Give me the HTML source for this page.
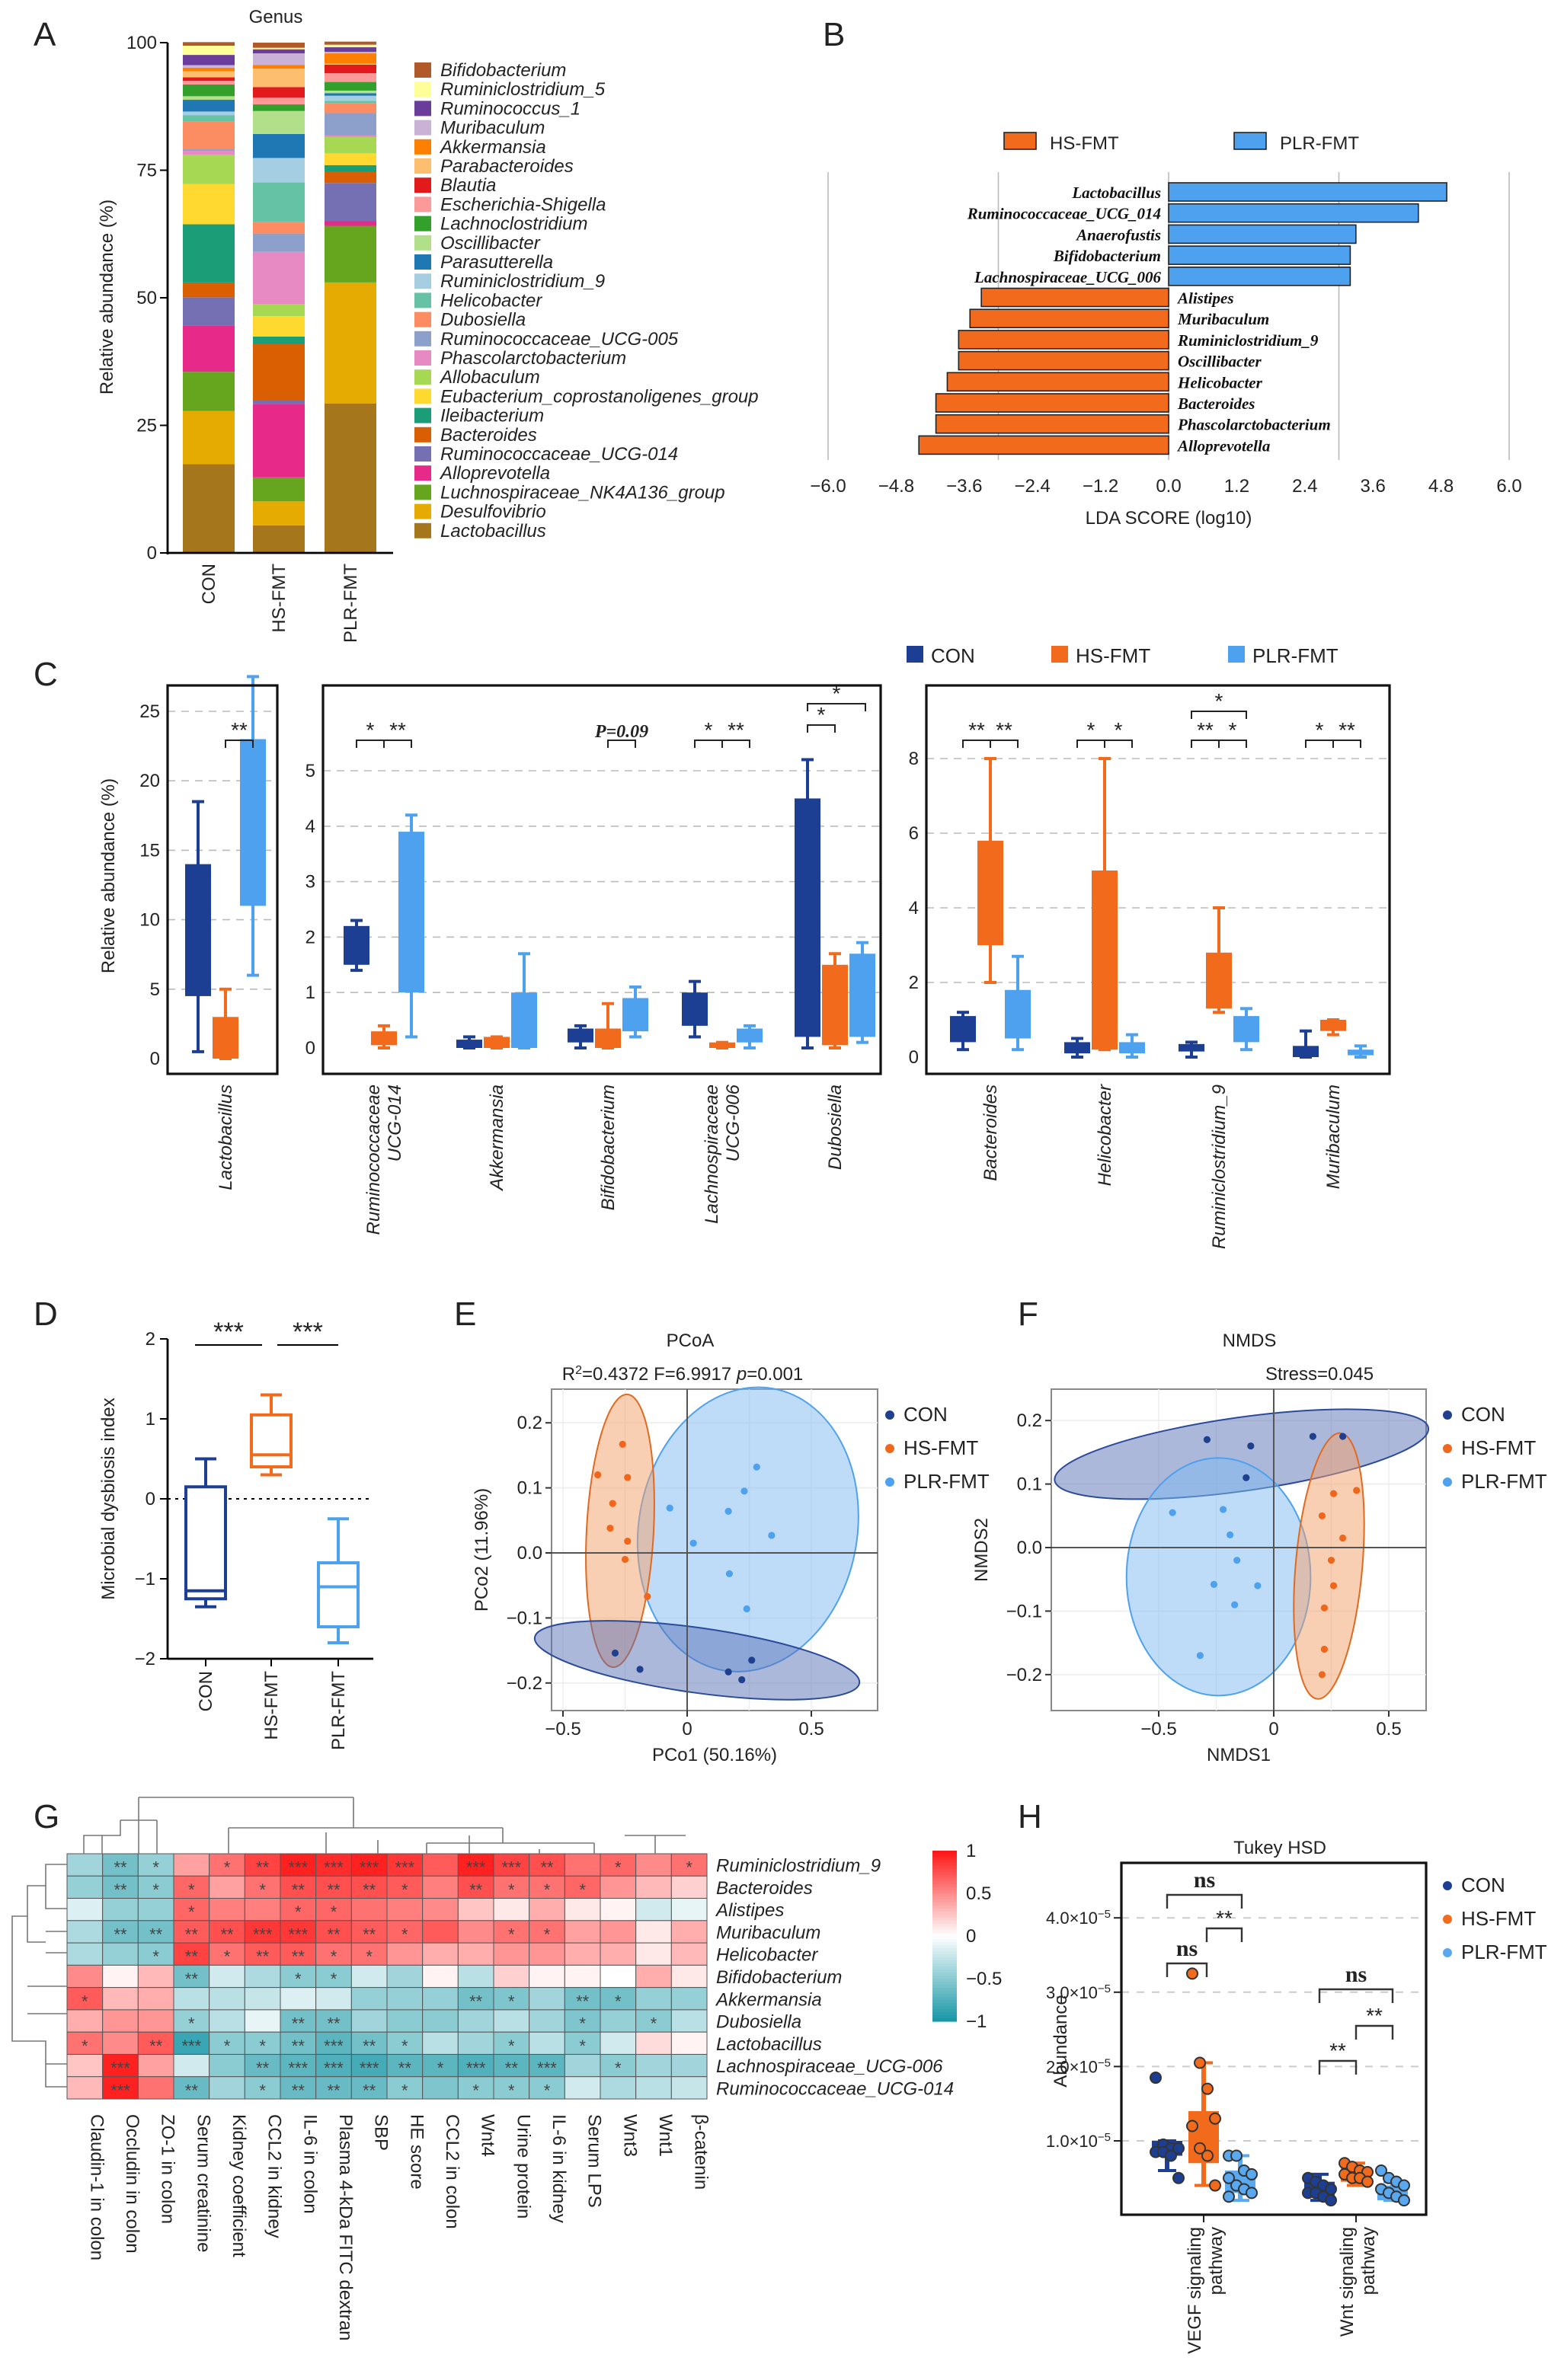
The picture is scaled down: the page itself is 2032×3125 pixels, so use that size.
<!DOCTYPE html>
<html><head><meta charset="utf-8">
<style>
html,body{margin:0;padding:0;background:#fff;}
svg{display:block;font-family:"Liberation Sans",sans-serif;}
.it{font-style:italic}
.bi{font-family:"Liberation Serif",serif;font-weight:bold;font-style:italic}
</style></head>
<body>
<svg id="fig" xmlns="http://www.w3.org/2000/svg" width="2032" height="3125" viewBox="0 0 1016 1562.5">
<rect x="0" y="0" width="1016" height="1562.5" fill="#fff"/>
</svg>
<script>
// ---------- DATA ----------
const generaA = ["Lactobacillus","Desulfovibrio","Luchnospiraceae_NK4A136_group","Alloprevotella","Ruminococcaceae_UCG-014","Bacteroides","Ileibacterium","Eubacterium_coprostanoligenes_group","Allobaculum","Phascolarctobacterium","Ruminococcaceae_UCG-005","Dubosiella","Helicobacter","Ruminiclostridium_9","Parasutterella","Oscillibacter","Lachnoclostridium","Escherichia-Shigella","Blautia","Parabacteroides","Akkermansia","Muribaculum","Ruminococcus_1","Ruminiclostridium_5","Bifidobacterium"];
const colorsA = ["#a6761d","#e6ab02","#66a61e","#e7298a","#7570b3","#d95f02","#1b9e77","#ffd92f","#a6d854","#e78ac3","#8da0cb","#fc8d62","#66c2a5","#a6cee3","#1f78b4","#b2df8a","#33a02c","#fb9a99","#e31a1c","#fdbf6f","#ff7f00","#cab2d6","#6a3d9a","#ffff99","#b15928"];
const groupsA = ["CON","HS-FMT","PLR-FMT"];
const conA = [17.4,10.4,7.7,9.1,5.5,2.9,11.4,7.9,5.7,0.8,0.3,5.4,1.3,0.7,2.3,0.7,2.3,0.7,0.7,1.2,0.7,0.5,2.0,1.8,0.7];
const hsA  = [5.4,4.7,4.7,14.4,0.8,10.9,1.5,4.0,2.4,10.2,3.6,2.3,7.7,4.8,4.7,4.5,1.3,1.3,2.1,3.6,0.7,2.3,0.8,0.3,1.0];
const plrA = [29.3,23.7,11.1,0.9,7.5,2.2,1.3,2.3,3.2,0.3,4.4,1.9,0.5,1.0,0.5,0.5,1.7,1.7,1.7,0.2,2.0,0.3,0.9,0.5,0.6];

const ldaTaxa = ["Lactobacillus","Ruminococcaceae_UCG_014","Anaerofustis","Bifidobacterium","Lachnospiraceae_UCG_006","Alistipes","Muribaculum","Ruminiclostridium_9","Oscillibacter","Helicobacter","Bacteroides","Phascolarctobacterium","Alloprevotella"];
const ldaScores = [4.9,4.4,3.3,3.2,3.2,-3.3,-3.5,-3.7,-3.7,-3.9,-4.1,-4.1,-4.4];
const ldaTicks = [-6.0,-4.8,-3.6,-2.4,-1.2,0.0,1.2,2.4,3.6,4.8,6.0];

const c1Taxa = ["Lactobacillus"];
const c1Con = [[0.5,4.5,14,18.5]];
const c1Hs  = [[0,0,3,5]];
const c1Plr = [[6,11,23,27.5]];
const c2Taxa = ["Ruminococcaceae UCG-014","Akkermansia","Bifidobacterium","Lachnospiraceae UCG-006","Dubosiella"];
const c2Con = [[1.4,1.5,2.2,2.3],[0,0,0.15,0.2],[0,0.1,0.35,0.4],[0.2,0.4,1.0,1.2],[0,0.2,4.5,5.2]];
const c2Hs  = [[0,0.05,0.3,0.4],[0,0,0.2,0.2],[0,0,0.35,0.8],[0,0,0.1,0.1],[0,0.05,1.5,1.7]];
const c2Plr = [[0.2,1.0,3.9,4.2],[0,0,1.0,1.7],[0.2,0.3,0.9,1.1],[0,0.1,0.35,0.4],[0.1,0.2,1.7,1.9]];
const c3Taxa = ["Bacteroides","Helicobacter","Ruminiclostridium_9","Muribaculum"];
const c3Con = [[0.2,0.4,1.1,1.2],[0,0.1,0.4,0.5],[0,0.15,0.35,0.4],[0,0,0.3,0.7]];
const c3Hs  = [[2,3,5.8,8],[0.2,0.2,5,8],[1.2,1.3,2.8,4],[0.6,0.7,1.0,1.0]];
const c3Plr = [[0.2,0.5,1.8,2.7],[0,0.1,0.4,0.6],[0.2,0.4,1.1,1.3],[0,0.05,0.2,0.3]];

const dGroups = ["CON","HS-FMT","PLR-FMT"];
const dStats = [[-1.35,-1.25,-1.15,0.15,0.5],[0.3,0.4,0.55,1.05,1.3],[-1.8,-1.6,-1.1,-0.8,-0.25]];

const eConX=[-0.29,-0.19,0.166,0.22,0.26], eConY=[-0.154,-0.179,-0.183,-0.195,-0.165];
const eHsX=[-0.26,-0.36,-0.24,-0.30,-0.31,-0.24,-0.25,-0.16], eHsY=[0.167,0.12,0.116,0.076,0.038,0.018,-0.01,-0.067];
const ePlrX=[0.28,0.23,-0.07,0.166,0.34,0.025,0.17,0.24], ePlrY=[0.132,0.095,0.069,0.064,0.027,0.015,-0.032,-0.086];
const eEllCon=[0.04,-0.165,0.66,0.05,8], eEllHs=[-0.27,0.034,0.135,0.21,3], eEllPlr=[0.245,0.036,0.44,0.22,10];
const fConX=[-0.29,0.17,0.3,-0.12,-0.1], fConY=[0.17,0.175,0.175,0.11,0.16];
const fHsX=[0.26,0.36,0.21,0.3,0.25,0.26,0.22,0.22,0.21], fHsY=[0.085,0.09,0.05,0.015,-0.02,-0.06,-0.095,-0.16,-0.2];
const fPlrX=[-0.44,-0.22,-0.19,-0.16,-0.26,-0.07,-0.17,-0.32], fPlrY=[0.055,0.06,0.02,-0.02,-0.058,-0.06,-0.09,-0.17];
const fEllCon=[-0.14,0.147,0.82,0.058,-8], fEllHs=[0.24,-0.029,0.145,0.21,5], fEllPlr=[-0.24,-0.046,0.4,0.187,0];

const gRows=["Ruminiclostridium_9","Bacteroides","Alistipes","Muribaculum","Helicobacter","Bifidobacterium","Akkermansia","Dubosiella","Lactobacillus","Lachnospiraceae_UCG-006","Ruminococcaceae_UCG-014"];
const gCols=["Claudin-1 in colon","Occludin in colon","ZO-1 in colon","Serum creatinine","Kidney coefficient","CCL2 in kidney","IL-6 in colon","Plasma 4-kDa FITC dextran","SBP","HE score","CCL2 in colon","Wnt4","Urine protein","IL-6 in kidney","Serum LPS","Wnt3","Wnt1","β-catenin"];
const gVals=[
[-0.4,-0.6,-0.45,0.4,0.6,0.8,0.95,0.9,0.95,0.85,0.7,0.95,0.8,0.75,0.6,0.65,0.5,0.6],
[-0.45,-0.6,-0.5,0.65,0.4,0.6,0.75,0.75,0.75,0.7,0.55,0.75,0.6,0.6,0.65,0.45,0.3,0.2],
[-0.15,-0.45,-0.45,0.65,0.55,0.55,0.65,0.65,0.6,0.55,0.5,0.25,0.1,0.35,0.1,0.05,-0.2,-0.1],
[-0.35,-0.6,-0.6,0.7,0.75,0.85,0.85,0.75,0.7,0.65,0.7,0.5,0.6,0.6,0.4,0.45,0.1,0.35],
[-0.35,-0.45,-0.5,0.8,0.6,0.7,0.7,0.6,0.6,0.45,0.35,0.35,0.45,0.45,0.35,0.35,0.1,0.3],
[0.5,0.05,0.3,-0.6,-0.2,-0.35,-0.5,-0.5,-0.2,-0.4,0.05,-0.3,0.2,0.05,0.05,0.0,0.35,0.1],
[0.7,0.3,0.35,-0.3,-0.3,-0.25,-0.15,-0.2,-0.45,-0.45,-0.45,-0.6,-0.55,-0.4,-0.6,-0.6,-0.45,-0.45],
[0.35,0.45,0.45,-0.45,-0.3,-0.1,-0.6,-0.6,-0.4,-0.5,-0.5,-0.4,-0.3,-0.4,-0.55,-0.45,-0.5,-0.3],
[0.6,0.5,0.7,-0.85,-0.5,-0.5,-0.6,-0.7,-0.6,-0.5,-0.3,-0.4,-0.5,-0.3,-0.5,-0.2,0.15,0.05],
[0.25,0.95,0.4,-0.2,-0.5,-0.65,-0.7,-0.75,-0.8,-0.7,-0.7,-0.75,-0.7,-0.7,-0.4,-0.5,-0.4,-0.4],
[0.3,0.95,0.6,-0.65,-0.4,-0.5,-0.65,-0.65,-0.65,-0.5,-0.55,-0.5,-0.5,-0.5,-0.2,-0.35,-0.3,-0.25]];
const gStars=[
["","**","*","","*","**","***","***","***","***","","***","***","**","","*","","*"],
["","**","*","*","","*","**","**","**","*","","**","*","*","*","","",""],
["","","","*","","","*","*","","","","","","","","","",""],
["","**","**","**","**","***","***","**","**","*","","","*","*","","","",""],
["","","*","**","*","**","**","*","*","","","","","","","","",""],
["","","","**","","","*","*","","","","","","","","","",""],
["*","","","","","","","","","","","**","*","","**","*","",""],
["","","","*","","","**","**","","","","","","","*","","*",""],
["*","","**","***","*","*","**","***","**","*","","","*","","*","","",""],
["","***","","","","**","***","***","***","**","*","***","**","***","","*","",""],
["","***","","**","","*","**","**","**","*","","*","*","*","","","",""]];
const gBarTicks=[1,0.5,0,-0.5,-1];

const hPathways=["VEGF signaling pathway","Wnt signaling pathway"];
const hTicks=[1.0,2.0,3.0,4.0];
const hConBox=[[0.6,0.8,1.0,1.0],[0.2,0.25,0.45,0.55]];
const hHsBox=[[0.4,0.7,1.4,2.05],[0.4,0.45,0.65,0.7]];
const hPlrBox=[[0.2,0.3,0.6,0.8],[0.2,0.2,0.4,0.45]];
const hConPts=[[1.85,0.95,0.9,0.9,0.85,0.85,0.8,0.5],[0.5,0.45,0.4,0.35,0.3,0.3,0.25,0.2]];
const hHsPts=[[3.25,2.05,1.7,1.3,1.2,0.9,0.8,0.4],[0.7,0.65,0.6,0.58,0.55,0.5,0.5,0.45]];
const hPlrPts=[[0.8,0.8,0.6,0.55,0.5,0.4,0.35,0.3,0.25],[0.6,0.5,0.45,0.4,0.35,0.3,0.25,0.2]];

// ---------- HELPERS ----------
const NS='http://www.w3.org/2000/svg';
const svg=document.getElementById('fig');
function mk(tag,attrs,parent){const e=document.createElementNS(NS,tag);for(const k in attrs)e.setAttribute(k,attrs[k]);(parent||svg).appendChild(e);return e;}
function tx(x,y,s,attrs,parent){const e=mk('text',Object.assign({x:x,y:y,'font-size':12,fill:'#222'},attrs||{}),parent);e.textContent=s;return e;}
function grp(name){const g=mk('g',{});return g;}
function fmtTick(v){return (v<0?'\u2212':'')+Math.abs(v).toFixed(1);}
const CC={con:'#1c3f94',hs:'#f26a1c',plr:'#4ea1ef'};

[['A',22,30],['B',540,30],['C',22,450],['D',22,870],['E',298,870],['F',668,870],['G',22,1200],['H',668,1200]].forEach(p=>{
  const t=tx(p[1],p[2],p[0],{'font-size':22});
  
  
});

// ---------- PANEL A ----------
(function(){
  const g=grp('panel-a-stacked-bar');
  const yA=v=>363-v*3.35;
  const barX=[120,166,213], bw=34;
  const sets=[conA,hsA,plrA];
  sets.forEach((vals,gi)=>{
    let cum=0;
    vals.forEach((v,i)=>{
      const r=mk('rect',{x:barX[gi],y:yA(cum+v),width:bw,height:Math.max(0,v*3.35),fill:colorsA[i]},g);
      
      
      cum+=v;
    });
    const t=tx(barX[gi]+bw/2+4,370,groupsA[gi],{'text-anchor':'end',transform:'rotate(-90 '+(barX[gi]+bw/2+4)+' 370)'},g);
    
    
  });
  mk('line',{x1:110,y1:28,x2:110,y2:364,stroke:'#000','stroke-width':1.4},g);
  mk('line',{x1:110,y1:363,x2:258,y2:363,stroke:'#000','stroke-width':1.4},g);
  [0,25,50,75,100].forEach(v=>{
    mk('line',{x1:105,y1:yA(v),x2:110,y2:yA(v),stroke:'#000'},g);
    const t=tx(103,yA(v)+4,String(v),{'text-anchor':'end'},g);
    
    
  });
  const yt=tx(74,195,'Relative abundance (%)',{'text-anchor':'middle',transform:'rotate(-90 74 195)'},g);
  
  
  const tt=tx(181,15,'Genus',{'text-anchor':'middle'},g);
  
  
  const n=generaA.length;
  for(let k=0;k<n;k++){
    const i=n-1-k;const y=50+k*12.6;
    const r=mk('rect',{x:272,y:y-9,width:11,height:10,fill:colorsA[i]},g);
    
    
    const t=tx(289,y,generaA[i],{class:'it','font-size':12},g);
    
    
  }
})();

// ---------- PANEL B ----------
(function(){
  const g=grp('panel-b-lda');
  const xL=v=>767+v*37.25;
  [-6,-3,0,3,6].forEach(v=>{const l=mk('line',{x1:xL(v),y1:113,x2:xL(v),y2:302,stroke:'#bbb','stroke-width':0.8},g);});
  ldaTaxa.forEach((name,i)=>{
    const v=ldaScores[i];const y=126+i*13.85;
    const r=mk('rect',{x:Math.min(xL(0),xL(v)),y:y-6,width:Math.abs(xL(v)-xL(0)),height:12,fill:v>0?'#4ea1ef':'#f26a1c',stroke:'#222','stroke-width':0.8},g);
    
    
    const t=tx(v>0?762:773,y+4,name,{class:'bi','font-size':10.5,'text-anchor':v>0?'end':'start',fill:'#111'},g);
    
    
  });
  ldaTicks.forEach(v=>{const t=tx(xL(v),323,fmtTick(v),{'text-anchor':'middle','font-size':12},g);});
  const xt=tx(767,344,'LDA SCORE (log10)',{'text-anchor':'middle'},g);
  
  
  const l1=mk('rect',{x:659,y:87,width:21,height:11,fill:'#f26a1c',stroke:'#222','stroke-width':0.8},g);
  
  
  const lt1=tx(689,98,'HS-FMT',{},g);
  
  
  const l2=mk('rect',{x:810,y:87,width:21,height:11,fill:'#4ea1ef',stroke:'#222','stroke-width':0.8},g);
  
  
  const lt2=tx(840,98,'PLR-FMT',{},g);
  
  
})();

// ---------- PANEL C ----------
function bracket(g,x1,x2,y,label,bold){
  const p=mk('path',{d:'M'+x1+' '+(y+5)+'V'+y+'H'+x2+'V'+(y+5),fill:'none',stroke:'#222','stroke-width':1},g);
  
  
  const t=tx((x1+x2)/2,y-2,label,bold?{class:'bi','text-anchor':'middle','font-size':12}:{'text-anchor':'middle','font-size':14},g);
  
  
}
function boxC(g,cx,st,ys,col,name){
  const w=17;
  const wl=mk('line',{x1:cx,y1:ys(st[0]),x2:cx,y2:ys(st[3]),stroke:col,'stroke-width':2},g);
  
  
  [st[0],st[3]].forEach(v=>mk('line',{x1:cx-4,y1:ys(v),x2:cx+4,y2:ys(v),stroke:col,'stroke-width':2},g));
  const r=mk('rect',{x:cx-w/2,y:ys(st[2]),width:w,height:Math.max(1.5,ys(st[1])-ys(st[2])),fill:col},g);
  
  
}
(function(){
  const g=grp('panel-c-boxplots');
  [['CON',CC.con,595],['HS-FMT',CC.hs,690],['PLR-FMT',CC.plr,806]].forEach(L=>{
    const r=mk('rect',{x:L[2],y:424,width:11,height:11,fill:L[1]},g);
    
    
    const t=tx(L[2]+16,435,L[0],{'font-size':13},g);
    
    
  });
  const yt=tx(75,575,'Relative abundance (%)',{'text-anchor':'middle',transform:'rotate(-90 75 575)'},g);
  
  
  const panels=[
    {x0:110,x1:182,y0:450,y1:705,zero:695,unit:45.6/5,ticks:[0,5,10,15,20,25],taxa:c1Taxa,con:c1Con,hs:c1Hs,plr:c1Plr,centers:[148]},
    {x0:212,x1:578,y0:450,y1:705,zero:688,unit:36.4,ticks:[0,1,2,3,4,5],taxa:c2Taxa,con:c2Con,hs:c2Hs,plr:c2Plr,centers:[252,326,399,474,548]},
    {x0:608,x1:912,y0:450,y1:705,zero:694,unit:24.5,ticks:[0,2,4,6,8],taxa:c3Taxa,con:c3Con,hs:c3Hs,plr:c3Plr,centers:[650,725,800,875]}];
  panels.forEach((P,pi)=>{
    const ys=v=>P.zero-v*P.unit;
    P.ticks.forEach(v=>{
      if(v>0){const l=mk('line',{x1:P.x0,y1:ys(v),x2:P.x1,y2:ys(v),stroke:'#bbb','stroke-dasharray':'5,4','stroke-width':0.8},g);}
      const t=tx(P.x0-5,ys(v)+4,String(v),{'text-anchor':'end'},g);
      
      
    });
    P.taxa.forEach((name,i)=>{
      const c=P.centers[i];
      boxC(g,c-18,P.con[i],ys,CC.con,'con-'+name);
      boxC(g,c,P.hs[i],ys,CC.hs,'hs-'+name);
      boxC(g,c+18,P.plr[i],ys,CC.plr,'plr-'+name);
      const parts=name.split(' ');
      parts.forEach((s,k)=>{
        const xx=c+4+(k-(parts.length-1))*14+ (parts.length>1?7:0);
        const t=tx(xx,712,s,{class:'it','text-anchor':'end',transform:'rotate(-90 '+xx+' 712)'},g);
        
        
      });
    });
    const fr=mk('rect',{x:P.x0,y:P.y0,width:P.x1-P.x0,height:P.y1-P.y0,fill:'none',stroke:'#111','stroke-width':1.6},g);
    
    
  });
  bracket(g,148,166,486,'**');
  bracket(g,234,252,486,'*');bracket(g,252,270,486,'**');
  bracket(g,399,417,486,'P=0.09',true);
  bracket(g,456,474,486,'*');bracket(g,474,492,486,'**');
  bracket(g,530,548,476,'*');bracket(g,530,568,462,'*');
  bracket(g,632,650,486,'**');bracket(g,650,668,486,'**');
  bracket(g,707,725,486,'*');bracket(g,725,743,486,'*');
  bracket(g,782,800,486,'**');bracket(g,800,818,486,'*');bracket(g,782,818,467,'*');
  bracket(g,857,875,486,'*');bracket(g,875,893,486,'**');
})();

// ---------- PANEL D ----------
(function(){
  const g=grp('panel-d-dysbiosis');
  const yD=v=>984-v*52.5;
  mk('line',{x1:110,y1:yD(2),x2:110,y2:yD(-2),stroke:'#000','stroke-width':1.4},g);
  mk('line',{x1:110,y1:yD(-2),x2:245,y2:yD(-2),stroke:'#000','stroke-width':1.4},g);
  mk('line',{x1:110,y1:yD(0),x2:245,y2:yD(0),stroke:'#000','stroke-dasharray':'2,3'},g);
  [-2,-1,0,1,2].forEach(v=>{mk('line',{x1:105,y1:yD(v),x2:110,y2:yD(v),stroke:'#000'},g);const t=tx(102,yD(v)+4,v<0?'\u2212'+(-v):String(v),{'text-anchor':'end'},g);});
  const yt=tx(75,984,'Microbial dysbiosis index',{'text-anchor':'middle',transform:'rotate(-90 75 984)'},g);
  
  
  const cols=[CC.con,CC.hs,CC.plr], cx=[135,178,222];
  dStats.forEach((s,i)=>{
    const c=cols[i],x=cx[i],w=26;
    mk('line',{x1:x,y1:yD(s[0]),x2:x,y2:yD(s[1]),stroke:c,'stroke-width':2},g);
    mk('line',{x1:x,y1:yD(s[3]),x2:x,y2:yD(s[4]),stroke:c,'stroke-width':2},g);
    mk('line',{x1:x-7,y1:yD(s[0]),x2:x+7,y2:yD(s[0]),stroke:c,'stroke-width':2},g);
    mk('line',{x1:x-7,y1:yD(s[4]),x2:x+7,y2:yD(s[4]),stroke:c,'stroke-width':2},g);
    const r=mk('rect',{x:x-w/2,y:yD(s[3]),width:w,height:yD(s[1])-yD(s[3]),fill:'#fff',stroke:c,'stroke-width':2},g);
    
    
    mk('line',{x1:x-w/2,y1:yD(s[2]),x2:x+w/2,y2:yD(s[2]),stroke:c,'stroke-width':2},g);
    mk('line',{x1:x,y1:yD(-2),x2:x,y2:yD(-2)+5,stroke:'#000'},g);
    const t=tx(x+4,1097,dGroups[i],{'text-anchor':'end',transform:'rotate(-90 '+(x+4)+' 1097)'},g);
    
    
  });
  [[128,172],[182,222]].forEach(b=>{
    mk('line',{x1:b[0],y1:883,x2:b[1],y2:883,stroke:'#000'},g);
    const t=tx((b[0]+b[1])/2,880,'***',{'text-anchor':'middle','font-size':17},g);
    
    
  });
})();

// ---------- PANEL E & F ----------
function ord(cfg){
  const g=grp(cfg.name);
  const xs=v=>cfg.x0+v*cfg.ux, ys=v=>cfg.y0-v*cfg.uy;
  const fr=mk('rect',{x:cfg.L,y:cfg.T,width:cfg.R-cfg.L,height:cfg.B-cfg.T,fill:'#fff',stroke:'#888','stroke-width':1},g);
  
  
  cfg.xgrid.forEach(v=>mk('line',{x1:xs(v),y1:cfg.T,x2:xs(v),y2:cfg.B,stroke:'#eee','stroke-width':0.8},g));
  cfg.ygrid.forEach(v=>mk('line',{x1:cfg.L,y1:ys(v),x2:cfg.R,y2:ys(v),stroke:'#eee','stroke-width':0.8},g));
  const ells=[[cfg.ellPlr,'#7db9f2','#4ea1ef','plr'],[cfg.ellHs,'#f4a06a','#e06a20','hs'],[cfg.ellCon,'#5a72b5','#2b4a9a','con']];
  if(cfg.ellOrder) ells.sort((a,b)=>cfg.ellOrder.indexOf(a[3])-cfg.ellOrder.indexOf(b[3]));
  ells.forEach(e=>{
    const E=e[0];
    const el=mk('ellipse',{cx:xs(E[0]),cy:ys(E[1]),rx:E[2]*cfg.ux,ry:E[3]*cfg.uy,transform:'rotate('+E[4]+' '+xs(E[0])+' '+ys(E[1])+')',fill:e[1],'fill-opacity':0.5,stroke:e[2],'stroke-width':1},g);
    
    
  });
  mk('line',{x1:xs(0),y1:cfg.T,x2:xs(0),y2:cfg.B,stroke:'#555','stroke-width':1},g);
  mk('line',{x1:cfg.L,y1:ys(0),x2:cfg.R,y2:ys(0),stroke:'#555','stroke-width':1},g);
  [[cfg.conX,cfg.conY,'#1f3f8f','con'],[cfg.hsX,cfg.hsY,'#f0661a','hs'],[cfg.plrX,cfg.plrY,'#4ea1ef','plr']].forEach(s=>{
    s[0].forEach((x,i)=>{
      const c=mk('circle',{cx:xs(x),cy:ys(s[1][i]),r:2.3,fill:s[2]},g);
      
      
    });
  });
  cfg.xticks.forEach(v=>{mk('line',{x1:xs(v),y1:cfg.B,x2:xs(v),y2:cfg.B+4,stroke:'#333'},g);const t=tx(xs(v),cfg.B+16,v<0?'\u2212'+(-v):String(v),{'text-anchor':'middle'},g);});
  cfg.yticks.forEach(v=>{mk('line',{x1:cfg.L-4,y1:ys(v),x2:cfg.L,y2:ys(v),stroke:'#333'},g);const t=tx(cfg.L-6,ys(v)+4,(v<0?'\u2212':'')+Math.abs(v).toFixed(1),{'text-anchor':'end'},g);});
  const xt=tx((cfg.L+cfg.R)/2,cfg.B+33,cfg.xt,{'text-anchor':'middle'},g);
  
  
  const yx=cfg.L-42, ymid=(cfg.T+cfg.B)/2;
  const yt=tx(yx,ymid,cfg.yt,{'text-anchor':'middle',transform:'rotate(-90 '+yx+' '+ymid+')'},g);
  
  
  const tt=tx(cfg.titleX,884,cfg.title,{'text-anchor':'middle'},g);
  
  
  [['CON','#1f3f8f'],['HS-FMT','#f0661a'],['PLR-FMT','#4ea1ef']].forEach((L,i)=>{
    const y=cfg.legY+i*22;
    const c=mk('circle',{cx:cfg.legX,cy:y-4,r:3,fill:L[1]},g);
    
    
    const t=tx(cfg.legX+9,y,L[0],{'font-size':13},g);
    
    
  });
  return g;
}
(function(){
  const gE=ord({name:'panel-e-pcoa',L:362,R:576,T:912,B:1123,x0:451,ux:163,y0:1019.5,uy:427,xgrid:[-0.5,-0.25,0.25,0.5],ygrid:[-0.2,-0.1,0.1,0.2],xticks:[-0.5,0,0.5],yticks:[-0.2,-0.1,0,0.1,0.2],
    conX:eConX,conY:eConY,hsX:eHsX,hsY:eHsY,plrX:ePlrX,plrY:ePlrY,ellCon:eEllCon,ellHs:eEllHs,ellPlr:eEllPlr,ellOrder:['plr','hs','con'],
    xt:'PCo1 (50.16%)',yt:'PCo2 (11.96%)',title:'PCoA',titleX:453,legX:584,legY:933});
  const st=tx(448,906,'',{'text-anchor':'middle'},gE);
  st.innerHTML='R<tspan baseline-shift="super" font-size="8">2</tspan>=0.4372 F=6.9917 <tspan font-style="italic">p</tspan>=0.001';
  
  
  const gF=ord({name:'panel-f-nmds',L:690,R:936,T:912,B:1123,x0:836,ux:151,y0:1016,uy:417,xgrid:[-0.5,-0.25,0.25,0.5],ygrid:[-0.2,-0.1,0.1,0.2],xticks:[-0.5,0,0.5],yticks:[-0.2,-0.1,0,0.1,0.2],
    conX:fConX,conY:fConY,hsX:fHsX,hsY:fHsY,plrX:fPlrX,plrY:fPlrY,ellCon:fEllCon,ellHs:fEllHs,ellPlr:fEllPlr,ellOrder:['con','plr','hs'],
    xt:'NMDS1',yt:'NMDS2',title:'NMDS',titleX:820,legX:950,legY:933});
  const st2=tx(866,906,'Stress=0.045',{'text-anchor':'middle'},gF);
  
  
})();

// ---------- PANEL G ----------
(function(){
  const g=grp('panel-g-heatmap');
  const L=44,T=1217,cw=(464-44)/18,ch=(1378-1217)/11;
  function col(v){
    const a=Math.min(1,Math.abs(v));
    const t=v>=0?[255,20,20]:[22,150,165];
    const r=Math.round(255+(t[0]-255)*a),gg=Math.round(255+(t[1]-255)*a),b=Math.round(255+(t[2]-255)*a);
    return 'rgb('+r+','+gg+','+b+')';
  }
  gVals.forEach((row,i)=>{
    row.forEach((v,j)=>{
      const r=mk('rect',{x:L+j*cw,y:T+i*ch,width:cw,height:ch,fill:col(v),stroke:'#555','stroke-width':0.5},g);
      
      
      const s=gStars[i][j];
      if(s){const t=tx(L+j*cw+cw/2,T+i*ch+ch/2+5.5,s,{'text-anchor':'middle','font-size':11,fill:'#444'},g);}
    });
    const t=tx(470,T+i*ch+ch/2+4.5,gRows[i],{class:'it','font-size':12},g);
    
    
  });
  gCols.forEach((c,j)=>{
    const x=L+j*cw+cw/2+4;
    const t=tx(x,1388,c,{'text-anchor':'start',transform:'rotate(90 '+x+' 1388)'},g);
    
    
  });
  const d=mk('path',{d:'M55 1217V1205H79V1195M67 1205M79 1195H103M91 1195V1217M103 1195V1217M79 1195V1205M67 1205V1217M91 1180H232M91 1180V1195M232 1180V1200M150 1200H330M150 1200V1217M330 1200V1210M280 1210H390M280 1210V1217M390 1210V1217M214 1203V1217M248 1208V1217M308 1205V1217M354 1214V1217M430 1205V1217M410 1205H450',fill:'none',stroke:'#777','stroke-width':0.8},g);
  
  
  const d2=mk('path',{d:'M44 1224H30V1253H44M30 1238H18V1275H30M30 1268H44M30 1282H44M18 1258H8V1340H18M18 1322H44M18 1340H30V1370H44M30 1355H44M18 1304H44',fill:'none',stroke:'#777','stroke-width':0.8},g);
  
  
  const cb0=1215,cb1=1327;
  for(let k=0;k<56;k++){
    const v=1-2*(k+0.5)/56;
    mk('rect',{x:612,y:cb0+k*(cb1-cb0)/56,width:16,height:(cb1-cb0)/56+0.3,fill:col(v)},g);
  }
  gBarTicks.forEach(v=>{
    const y=cb0+(1-v)/2*(cb1-cb0);
    const t=tx(634,y+4,v<0?'\u2212'+(-v):String(v),{},g);
    
    
  });
})();

// ---------- PANEL H ----------
(function(){
  const g=grp('panel-h-tukey');
  const L=736,R=936,T=1223,B=1454;
  const yH=v=>1454.3-v*48.8;
  hTicks.forEach(v=>{
    const l=mk('line',{x1:L,y1:yH(v),x2:R,y2:yH(v),stroke:'#ccc','stroke-dasharray':'5,5'},g);
    
    
    mk('line',{x1:L-5,y1:yH(v),x2:L,y2:yH(v),stroke:'#222'},g);
    const t=tx(L-7,yH(v)+4,'',{'text-anchor':'end','font-size':11},g);
    t.innerHTML=v.toFixed(1)+'×10<tspan baseline-shift="super" font-size="7.5">−5</tspan>';
    
    
  });
  const yt=tx(700,1340,'Abundance',{'text-anchor':'middle',transform:'rotate(-90 700 1340)'},g);
  
  
  const tt=tx(840,1217,'Tukey HSD',{'text-anchor':'middle'},g);
  
  
  const centers=[790,890];
  const sets=[[hConBox,hConPts,'#1c3f94','#1c3f94',-24,'con'],[hHsBox,hHsPts,'#f26a1c','#f26a1c',0,'hs'],[hPlrBox,hPlrPts,'#5aa8f0','#5aa8f0',24,'plr']];
  centers.forEach((c,pi)=>{
    sets.forEach(S=>{
      const st=S[0][pi],x=c+S[4];
      mk('line',{x1:x,y1:yH(st[0]),x2:x,y2:yH(st[3]),stroke:S[2],'stroke-width':3},g);
      mk('line',{x1:x-6,y1:yH(st[3]),x2:x+6,y2:yH(st[3]),stroke:S[2],'stroke-width':2},g);
      mk('line',{x1:x-6,y1:yH(st[0]),x2:x+6,y2:yH(st[0]),stroke:S[2],'stroke-width':2},g);
      const r=mk('rect',{x:x-10,y:yH(st[2]),width:20,height:Math.max(2,yH(st[1])-yH(st[2])),fill:S[2]},g);
      
      
      S[1][pi].forEach((v,k)=>{
        const jx=x+((k%4)-1.5)*5;
        const p=mk('circle',{cx:jx,cy:yH(v),r:3.5,fill:S[3],stroke:'#333','stroke-width':1},g);
        
        
      });
    });
    mk('line',{x1:c,y1:B,x2:c,y2:B+5,stroke:'#222'},g);
    const words=hPathways[pi].split(' ');
    const l1=words.slice(0,2).join(' '), l2=words[2];
    [[l1,c-2],[l2,c+12]].forEach(w=>{
      const t=tx(w[1],1462,w[0],{'text-anchor':'end',transform:'rotate(-90 '+w[1]+' 1462)'},g);
      
      
    });
  });
  const fr=mk('rect',{x:L,y:T,width:R-L,height:B-T,fill:'none',stroke:'#111','stroke-width':1.6},g);
  
  
  function hb(x1,x2,y,lab,ns){
    mk('path',{d:'M'+x1+' '+(y+9)+'V'+y+'H'+x2+'V'+(y+9),fill:'none',stroke:'#333','stroke-width':1.2},g);
    const t=tx((x1+x2)/2,y-(ns?5:2),lab,{'text-anchor':'middle','font-size':ns?15:14,'font-family':ns?'Liberation Serif':'Liberation Sans','font-weight':ns?'bold':'normal'},g);
    
    
  }
  hb(766,815,1244,'ns',true);hb(792,815,1266,'**');hb(766,792,1289,'ns',true);
  hb(866,914,1306,'ns',true);hb(890,914,1330,'**');hb(866,890,1353,'**');
  [['CON','#1c3f94'],['HS-FMT','#f26a1c'],['PLR-FMT','#5aa8f0']].forEach((L2,i)=>{
    const y=1242+i*22;
    const c=mk('circle',{cx:950,cy:y-4,r:3,fill:L2[1]},g);
    
    
    const t=tx(959,y,L2[0],{'font-size':13},g);
    
    
  });
})();
</script>
</body></html>
